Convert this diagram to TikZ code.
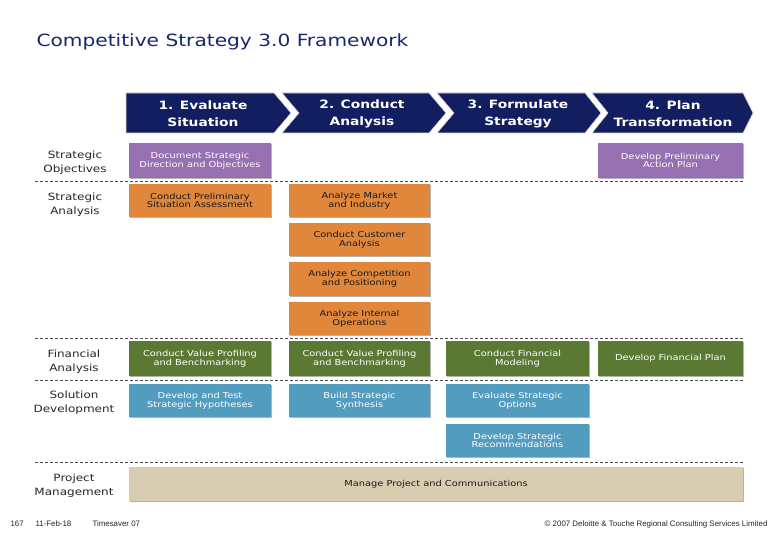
\documentclass[tikz,border=0pt]{standalone}
\usepackage{fontspec}
\setmainfont[FakeStretch=1.2]{DejaVu Sans}
\newfontfamily\footfont{Liberation Sans}
\usetikzlibrary{shadows}
\definecolor{cnavy}{RGB}{18,30,96}
\definecolor{ctitle}{RGB}{22,40,110}
\definecolor{cpurple}{RGB}{150,112,176}
\definecolor{corange}{RGB}{224,135,60}
\definecolor{cgreen}{RGB}{90,122,52}
\definecolor{cblue}{RGB}{82,156,192}
\definecolor{ctan}{RGB}{216,205,176}
\tikzset{
  box/.style={rectangle, inner sep=1pt, align=center,
    font=\fontsize{8.2}{8.8}\selectfont,
    drop shadow={shadow xshift=0.9pt, shadow yshift=-0.9pt, opacity=0.55, fill=black!55}},
  pbox/.style={box, fill=cpurple, text=white},
  obox/.style={box, fill=corange, text=black!90},
  gbox/.style={box, fill=cgreen, text=white},
  bbox/.style={box, fill=cblue, text=white},
  tbox/.style={box, fill=ctan, text=black!90},
  chev/.style={fill=cnavy, draw=black!15, line width=0.6pt},
  chevtext/.style={text=white, align=center, font=\bfseries\fontsize{11.5}{17}\selectfont},
  rowlabel/.style={align=center, text=black!85, font=\fontsize{10}{14}\selectfont},
  sep/.style={draw=black!70, dash pattern=on 3pt off 2pt, line width=0.7pt},
  foot/.style={font=\footfont\fontsize{7.9}{9}\selectfont, text=black!85},
}
\newcommand\bx[7]{\node[#2, minimum width={#5pt-#3pt}, minimum height={#6pt-#4pt}] (#1) at ({(#3+#5)/2},{(#4+#6)/2}) {#7};}
\begin{document}
\begin{tikzpicture}[x=1pt,y=-1pt]
\path[use as bounding box, fill=white] (0,0) rectangle (780,540);

% title
\node[anchor=west, text=ctitle, font=\fontsize{16.8}{20}\selectfont] (title) at (33,42) {Competitive Strategy 3.0 Framework};

% chevrons
\draw[chev] (126,93) -- (274,93) -- (291,113) -- (274,133) -- (126,133) -- cycle;
\draw[chev] (282,93) -- (429,93) -- (446,113) -- (429,133) -- (282,133) -- (299,113) -- cycle;
\draw[chev] (437,93) -- (585,93) -- (601,113) -- (585,133) -- (437,133) -- (454,113) -- cycle;
\draw[chev] (592,93) -- (743,93) -- (753,113) -- (743,133) -- (592,133) -- (608,113) -- cycle;
\node[chevtext] (c1) at (203,114) {1. Evaluate\\Situation};
\node[chevtext] (c2) at (362,114) {2. Conduct\\Analysis};
\node[chevtext] (c3) at (518,114) {3. Formulate\\Strategy};
\node[chevtext] (c4) at (673,114) {4. Plan\\Transformation};

% row labels
\node[rowlabel] (l1) at (75,162.5) {Strategic\\Objectives};
\node[rowlabel] (l2) at (75,204.5) {Strategic\\Analysis};
\node[rowlabel] (l3) at (74,361.5) {Financial\\Analysis};
\node[rowlabel] (l4) at (74,402.5) {Solution\\Development};
\node[rowlabel] (l5) at (74,485.5) {Project\\Management};

% separators
\draw[sep] (35,181) -- (745,181);
\draw[sep] (35,338.5) -- (745,338.5);
\draw[sep] (35,380.5) -- (745,380.5);
\draw[sep] (35,462) -- (745,462);

% boxes
\bx{so1}{pbox}{129}{143}{271}{178}{Document Strategic\\Direction and Objectives}
\bx{so4}{pbox}{598}{143}{743}{178}{Develop Preliminary\\Action Plan}

\bx{sa1}{obox}{129}{184}{271}{217}{Conduct Preliminary\\Situation Assessment}
\bx{sa2}{obox}{289}{184}{430}{217}{Analyze Market\\and Industry}
\bx{sa3}{obox}{289}{223}{430}{256}{Conduct Customer\\Analysis}
\bx{sa4}{obox}{289}{262}{430}{296}{Analyze Competition\\and Positioning}
\bx{sa5}{obox}{289}{302}{430}{335}{Analyze Internal\\Operations}

\bx{fa1}{gbox}{129}{341}{271}{376}{Conduct Value Profiling\\and Benchmarking}
\bx{fa2}{gbox}{289}{341}{430}{376}{Conduct Value Profiling\\and Benchmarking}
\bx{fa3}{gbox}{446}{341}{589}{376}{Conduct Financial\\Modeling}
\bx{fa4}{gbox}{598}{341}{743}{376}{Develop Financial Plan}

\bx{sd1}{bbox}{129}{384}{271}{417}{Develop and Test\\Strategic Hypotheses}
\bx{sd2}{bbox}{289}{384}{430}{417}{Build Strategic\\Synthesis}
\bx{sd3}{bbox}{446}{384}{589}{417}{Evaluate Strategic\\Options}
\bx{sd4}{bbox}{446}{424}{589}{457}{Develop Strategic\\Recommendations}

\bx{pm}{tbox}{129}{467}{743}{501}{Manage Project and Communications}

% footer
\node[foot, anchor=west] (f1) at (7,524) {167};
\node[foot, anchor=west] (f2) at (32,524) {11-Feb-18};
\node[foot, anchor=west] (f3) at (89,524) {Timesaver 07};
\node[foot, anchor=east] (f4) at (771,524) {© 2007 Deloitte \& Touche Regional Consulting Services Limited};
\end{tikzpicture}
\end{document}
